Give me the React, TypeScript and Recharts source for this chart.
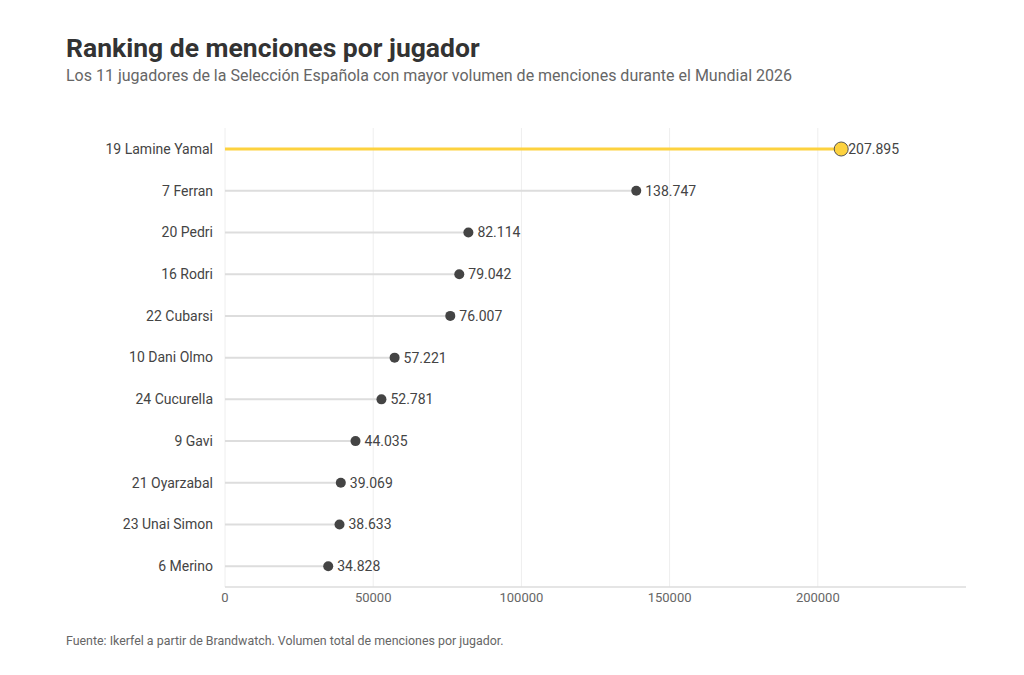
import { BarChart, Bar, XAxis, YAxis, CartesianGrid } from "recharts";

const jugadores = [
	"19 Lamine Yamal",
	"7 Ferran",
	"20 Pedri",
	"16 Rodri",
	"22 Cubarsi",
	"10 Dani Olmo",
	"24 Cucurella",
	"9 Gavi",
	"21 Oyarzabal",
	"23 Unai Simon",
	"6 Merino",
];
const menciones = [207895, 138747, 82114, 79042, 76007, 57221, 52781, 44035, 39069, 38633, 34828];
const destacado = "19 Lamine Yamal";
const xTicks = [0, 50000, 100000, 150000, 200000];

const data = jugadores.map((name, i) => ({ name, menciones: menciones[i] }));

const fmt = (v: number) => String(v).replace(/\B(?=(\d{3})+(?!\d))/g, ".");

const FONT = "Roboto, 'Noto Sans', sans-serif";

const Lollipop = (props: any) => {
	const { x, y, width, height, payload } = props;
	const cy = y + height / 2;
	const end = x + width;
	const hl = payload.name === destacado;
	return (
		<g>
			<line
				x1={x}
				x2={end}
				y1={cy}
				y2={cy}
				stroke={hl ? "#FDD23F" : "#dddddd"}
				strokeWidth={hl ? 3 : 2}
			/>
			<circle
				cx={end}
				cy={cy}
				r={hl ? 7 : 5}
				fill={hl ? "#FDD23F" : "#444444"}
				stroke={hl ? "#555555" : "none"}
				strokeWidth={1}
			/>
			<text
				x={end + (hl ? 7 : 9)}
				y={cy}
				dy="0.35em"
				fontSize={14}
				fill="#444444"
				fontFamily={FONT}
			>
				{fmt(payload.menciones)}
			</text>
		</g>
	);
};

const App = () => {
	return (
		<div
			style={{
				position: "relative",
				width: 1024,
				height: 675,
				margin: -8,
				background: "#ffffff",
				fontFamily: FONT,
			}}
		>
			<div
				style={{
					position: "absolute",
					left: 66,
					top: 32,
					fontSize: 26.5,
					fontWeight: 700,
					color: "#333333",
				}}
			>
				Ranking de menciones por jugador
			</div>
			<div
				style={{
					position: "absolute",
					left: 66,
					top: 66,
					fontSize: 16,
					color: "#666666",
				}}
			>
				Los 11 jugadores de la Selección Española con mayor volumen de menciones durante el Mundial 2026
			</div>
			<div style={{ position: "absolute", left: 0, top: 0 }}>
				<BarChart
					width={1024}
					height={675}
					data={data}
					layout="vertical"
					margin={{ top: 128, right: 58, left: 0, bottom: 58 }}
				>
					<CartesianGrid horizontal={false} stroke="#eeeeee" syncWithTicks />
					<XAxis
						type="number"
						domain={[0, 250000]}
						ticks={xTicks}
						tickLine={false}
						axisLine={{ stroke: "#dddddd", strokeWidth: 1.5 }}
						tick={{ fontSize: 13, fill: "#666666", fontFamily: FONT }}
						tickMargin={0}
					/>
					<YAxis
						type="category"
						dataKey="name"
						width={225}
						tickLine={false}
						axisLine={false}
						tick={{ fontSize: 14, fill: "#444444", fontFamily: FONT }}
						tickMargin={6}
					/>
					<Bar dataKey="menciones" barSize={20} shape={<Lollipop />} isAnimationActive={false} />
				</BarChart>
			</div>
			<div
				style={{
					position: "absolute",
					left: 66,
					top: 633,
					fontSize: 12.4,
					color: "#666666",
				}}
			>
				Fuente: Ikerfel a partir de Brandwatch. Volumen total de menciones por jugador.
			</div>
		</div>
	);
};

export default App;
